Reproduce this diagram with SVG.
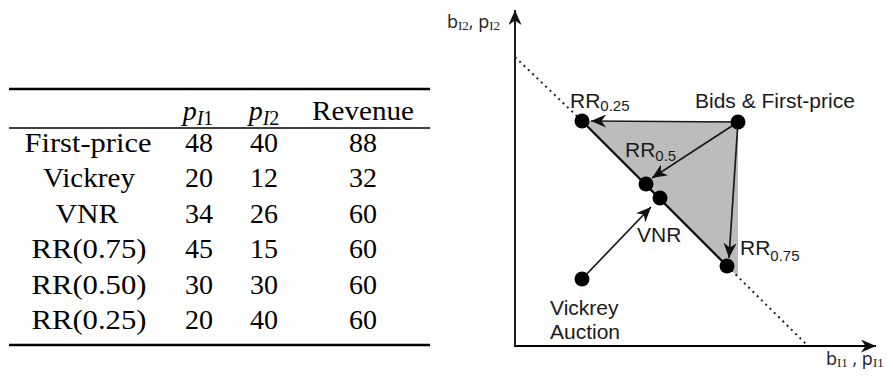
<svg xmlns="http://www.w3.org/2000/svg" width="893" height="377" viewBox="0 0 893 377">
<defs>
<style>
.tb{font-family:"Liberation Serif","Times New Roman",serif;font-size:28px;fill:#000;text-anchor:middle}
.it{font-style:italic}
.ts{font-size:20px}
.lbl{font-family:"Liberation Sans",Arial,sans-serif;font-size:21px;fill:#1a1a1a}
.sub{font-size:15px}
.ax{font-family:"Open Sans","Liberation Sans",sans-serif;font-size:18px;fill:#222}
.axs{font-family:"Liberation Serif",serif;font-size:13px}
.dot{fill:#000}
.rule{stroke:#000;fill:none}
.arr{stroke:#1a1a1a;stroke-width:1.7;fill:none;marker-end:url(#ah)}
.axis{stroke:#000;stroke-width:1.8;fill:none;marker-end:url(#ah)}
.dotted{stroke:#222;stroke-width:2;stroke-dasharray:2,4;fill:none}
</style>
<marker id="ah" markerUnits="userSpaceOnUse" markerWidth="17" markerHeight="13" refX="15" refY="6.5" orient="auto"><path d="M0,0 L15,6.5 L0,13 L4.5,6.5 z" fill="#111"/></marker>
</defs>

<g id="table">
  <line class="rule" x1="9" y1="89" x2="430" y2="89" stroke-width="2.6"/>
  <line class="rule" x1="9" y1="128" x2="430" y2="128" stroke-width="1.4"/>
  <line class="rule" x1="9" y1="345" x2="430" y2="345" stroke-width="2.6"/>
  <text class="tb" x="198" y="120"><tspan class="it">p</tspan><tspan class="ts it" dy="5">I</tspan><tspan class="ts">1</tspan></text>
  <text class="tb" x="264" y="120"><tspan class="it">p</tspan><tspan class="ts it" dy="5">I</tspan><tspan class="ts">2</tspan></text>
  <text class="tb" x="363" y="120" textLength="102" lengthAdjust="spacingAndGlyphs">Revenue</text>

  <text class="tb" x="88" y="152" textLength="127" lengthAdjust="spacingAndGlyphs">First-price</text>
  <text class="tb" x="199" y="152">48</text><text class="tb" x="264" y="152">40</text><text class="tb" x="363" y="152">88</text>

  <text class="tb" x="89" y="187" textLength="92" lengthAdjust="spacingAndGlyphs">Vickrey</text>
  <text class="tb" x="199" y="187">20</text><text class="tb" x="264" y="187">12</text><text class="tb" x="363" y="187">32</text>

  <text class="tb" x="87" y="223" textLength="63" lengthAdjust="spacingAndGlyphs">VNR</text>
  <text class="tb" x="199" y="223">34</text><text class="tb" x="264" y="223">26</text><text class="tb" x="363" y="223">60</text>

  <text class="tb" x="89" y="258" textLength="115" lengthAdjust="spacingAndGlyphs">RR(0.75)</text>
  <text class="tb" x="199" y="258">45</text><text class="tb" x="264" y="258">15</text><text class="tb" x="363" y="258">60</text>

  <text class="tb" x="89" y="294" textLength="115" lengthAdjust="spacingAndGlyphs">RR(0.50)</text>
  <text class="tb" x="199" y="294">30</text><text class="tb" x="264" y="294">30</text><text class="tb" x="363" y="294">60</text>

  <text class="tb" x="89" y="329" textLength="115" lengthAdjust="spacingAndGlyphs">RR(0.25)</text>
  <text class="tb" x="199" y="329">20</text><text class="tb" x="264" y="329">40</text><text class="tb" x="363" y="329">60</text>
</g>

<g id="region">
  <polygon points="582,121 738,121 738,277" fill="#bcbcbc"/>
</g>

<g id="axes">
  <line class="axis" x1="515" y1="347" x2="515" y2="10"/>
  <line class="axis" x1="514" y1="346" x2="876" y2="346"/>
  <text class="ax" x="447" y="28">b<tspan class="axs" dy="2">I2</tspan><tspan dy="-2">, p</tspan><tspan class="axs" dy="2">I2</tspan></text>
  <text class="ax" x="826" y="365">b<tspan class="axs" dy="2">I1</tspan><tspan dy="-2"> , p</tspan><tspan class="axs" dy="2">I1</tspan></text>
</g>

<g id="connectors">
  <line class="dotted" x1="515" y1="57" x2="582" y2="121"/>
  <line class="dotted" x1="727" y1="266" x2="806" y2="344"/>
  <line x1="582" y1="121" x2="727" y2="266" stroke="#000" stroke-width="2.2"/>
  <line class="arr" x1="738" y1="122" x2="591" y2="121" stroke-width="2"/>
  <line class="arr" x1="738" y1="122" x2="652" y2="178"/>
  <line class="arr" x1="738" y1="122" x2="729" y2="258"/>
  <line class="arr" x1="582" y1="279" x2="651" y2="207"/>
</g>

<g id="rr025">
  <circle class="dot" cx="582" cy="121" r="7.5"/>
  <text class="lbl" x="570" y="108">RR<tspan class="sub" dy="3">0.25</tspan></text>
</g>
<g id="bids">
  <circle class="dot" cx="738" cy="122" r="7.5"/>
  <text class="lbl" x="695" y="108">Bids &amp; First-price</text>
</g>
<g id="rr05">
  <circle class="dot" cx="646" cy="184" r="7.5"/>
  <text class="lbl" x="625" y="157">RR<tspan class="sub" dy="4">0.5</tspan></text>
</g>
<g id="vnr">
  <circle class="dot" cx="660" cy="198" r="7.5"/>
  <text class="lbl" x="637" y="242">VNR</text>
</g>
<g id="rr075">
  <circle class="dot" cx="727" cy="266" r="7.5"/>
  <text class="lbl" x="740" y="255">RR<tspan class="sub" dy="6">0.75</tspan></text>
</g>
<g id="vickrey">
  <circle class="dot" cx="582" cy="279" r="7.5"/>
  <text class="lbl" x="550" y="315">Vickrey</text>
  <text class="lbl" x="550" y="339">Auction</text>
</g>
</svg>
